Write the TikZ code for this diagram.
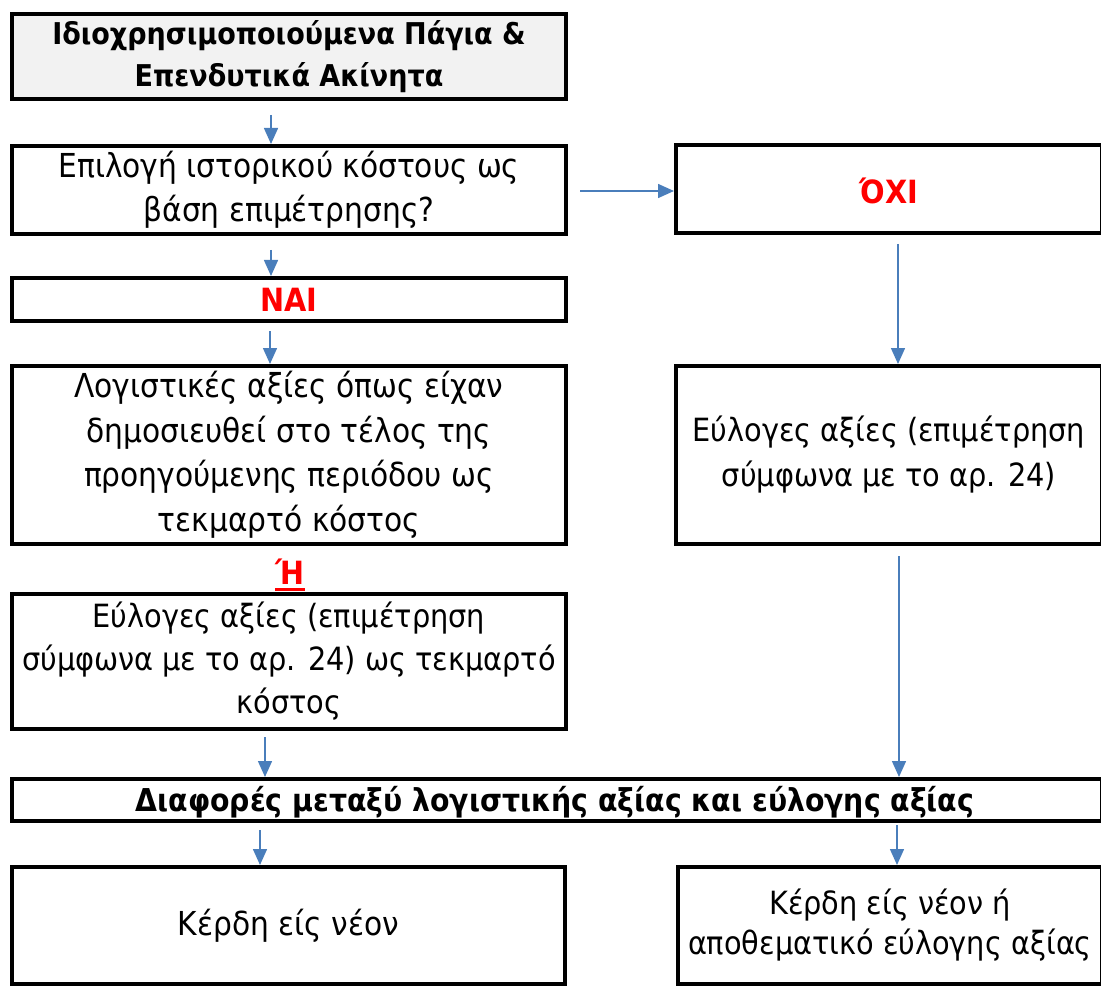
\documentclass[tikz,border=0pt]{standalone}
\usepackage{fontspec}
\setmainfont{DejaVu Sans Condensed}
\usetikzlibrary{arrows.meta}
\definecolor{arrowblue}{HTML}{4A7EBB}
\definecolor{boxgray}{HTML}{F2F2F2}
\definecolor{redtxt}{HTML}{FF0000}
\tikzset{
  box/.style={draw=black, line width=4pt, fill=white, inner sep=0pt, align=center,
    font=\fontsize{33}{44.5}\selectfont},
  redlbl/.style={text=redtxt, font=\fontsize{32}{40}\selectfont\bfseries},
  arr/.style={draw=arrowblue, line width=1.5pt, -{Triangle[width=14pt,length=16pt]}},
}
\begin{document}
\begin{tikzpicture}[x=1pt,y=-1pt]
\clip (0,0) rectangle (1101,987);
\useasboundingbox (0,0) rectangle (1101,987);
% left column
\node[box, fill=boxgray, minimum width=554, minimum height=85,
  font=\fontsize{30}{42}\selectfont\bfseries] (b1) at (289,56.5)
  {Ιδιοχρησιμοποιούμενα Πάγια \&\\Επενδυτικά Ακίνητα};
\node[box, minimum width=554, minimum height=88] (b2) at (289,190)
  {Επιλογή ιστορικού κόστους ως\\βάση επιμέτρησης?};
\node[box, minimum width=554, minimum height=43] (nai) at (289,299.5) {};
\node[redlbl] (naitxt) at (289,300) {ΝΑΙ};
\node[box, minimum width=554, minimum height=178] (log) at (289,455)
  {Λογιστικές αξίες όπως είχαν\\δημοσιευθεί στο τέλος της\\προηγούμενης περιόδου ως\\τεκμαρτό κόστος};
\node[redlbl, inner sep=0pt] (eta) at (290,572) {Ή};
\draw[redtxt, line width=3pt] ([yshift=-5pt]eta.south west) -- ([yshift=-5pt]eta.south east);
\node[box, minimum width=554, minimum height=135, font=\fontsize{32}{43}\selectfont] (eul) at (289,661.5)
  {Εύλογες αξίες (επιμέτρηση\\σύμφωνα με το αρ. 24) ως τεκμαρτό\\κόστος};
% right column
\node[box, minimum width=426, minimum height=88] (oxi) at (889,189) {};
\node[redlbl] (oxitxt) at (889,191) {ΌΧΙ};
\node[box, minimum width=426, minimum height=178, font=\fontsize{32}{45}\selectfont] (er) at (889,455)
  {Εύλογες αξίες (επιμέτρηση\\σύμφωνα με το αρ. 24)};
% bottom
\node[box, minimum width=1090, minimum height=42] (diaf) at (557,800) {};
\node[font=\fontsize{31.5}{36}\selectfont\bfseries] (diaftxt) at (555,802)
  {Διαφορές μεταξύ λογιστικής αξίας και εύλογης αξίας};
\node[box, minimum width=553, minimum height=117] (kl) at (288.5,925.5)
  {Κέρδη είς νέον};
\node[box, minimum width=424, minimum height=117, font=\fontsize{32}{40}\selectfont] (kr) at (890,925.5)
  {Κέρδη είς νέον ή\\αποθεματικό εύλογης αξίας};
% arrow x positions
\coordinate (xa) at (271,0);
\coordinate (xb) at (270,0);
\coordinate (xc) at (898,0);
\coordinate (xd) at (265,0);
\coordinate (xe) at (899,0);
\coordinate (xf) at (260,0);
\coordinate (xg) at (897,0);
\coordinate (ya) at (0,191);
% arrows
\draw[arr, shorten <=14pt] (b1.south -| xa) -- (b2.north -| xa);
\draw[arr, shorten <=12pt] (b2.east |- ya) -- (oxi.west |- ya);
\draw[arr, shorten <=14pt] (b2.south -| xa) -- (nai.north -| xa);
\draw[arr, shorten <=8pt] (nai.south -| xb) -- (log.north -| xb);
\draw[arr, shorten <=9pt] (oxi.south -| xc) -- (er.north -| xc);
\draw[arr, shorten <=6pt] (eul.south -| xd) -- (diaf.north -| xd);
\draw[arr, shorten <=10pt] (er.south -| xe) -- (diaf.north -| xe);
\draw[arr, shorten <=7pt] (diaf.south -| xf) -- (kl.north -| xf);
\draw[arr, shorten <=2pt] (diaf.south -| xg) -- (kr.north -| xg);
\end{tikzpicture}
\end{document}
